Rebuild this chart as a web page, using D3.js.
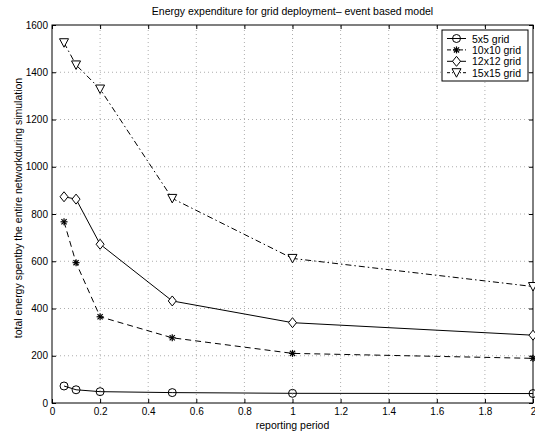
<!DOCTYPE html>
<html><head><meta charset="utf-8">
<script src="https://cdn.jsdelivr.net/npm/d3@7"></script>
<style>body{margin:0;background:#fff}svg{display:block}text{font-family:"Liberation Sans",Arial,sans-serif;fill:#000}</style>
</head><body>
<script>
const reportingPeriod = [0.05, 0.1, 0.2, 0.5, 1, 2];
const grid5 = [72, 56, 48, 44, 41, 40];
const grid10 = [767, 594, 365, 276, 210, 189];
const grid12 = [873, 863, 672, 432, 340, 287];
const grid15 = [1525, 1431, 1329, 866, 612, 493];
const seriesNames = ["5x5 grid", "10x10 grid", "12x12 grid", "15x15 grid"];
const xTicks = [0, 0.2, 0.4, 0.6, 0.8, 1, 1.2, 1.4, 1.6, 1.8, 2];
const yTicks = [0, 200, 400, 600, 800, 1000, 1200, 1400, 1600];

const W = 535, H = 437;
const m = {l: 52, r: 2, t: 25, b: 34};
const svg = d3.select("body").append("svg").attr("width", W).attr("height", H);
const x = d3.scaleLinear().domain([0, 2]).range([m.l, W - m.r]);
const y = d3.scaleLinear().domain([0, 1600]).range([H - m.b, m.t]);

// grid
const g = svg.append("g");
g.selectAll(".vx").data(xTicks.slice(1, -1)).enter().append("line")
  .attr("x1", d => x(d)).attr("x2", d => x(d)).attr("y1", y(0)).attr("y2", y(1600))
  .attr("stroke", "#999").attr("stroke-width", 0.8).attr("stroke-dasharray", "1,3");
g.selectAll(".hy").data(yTicks.slice(1, -1)).enter().append("line")
  .attr("y1", d => y(d)).attr("y2", d => y(d)).attr("x1", x(0)).attr("x2", x(2))
  .attr("stroke", "#999").attr("stroke-width", 0.8).attr("stroke-dasharray", "1,3");

// axes
const xAx = svg.append("g").attr("transform", `translate(0,${y(0)})`)
  .call(d3.axisBottom(x).tickValues(xTicks).tickFormat(d3.format("~g")).tickSizeInner(-4).tickSizeOuter(0).tickPadding(5));
const xAxT = svg.append("g").attr("transform", `translate(0,${y(1600)})`)
  .call(d3.axisTop(x).tickValues(xTicks).tickFormat("").tickSizeInner(-4).tickSizeOuter(0));
const yAx = svg.append("g").attr("transform", `translate(${x(0)},0)`)
  .call(d3.axisLeft(y).tickValues(yTicks).tickFormat(d3.format("d")).tickSizeInner(-4).tickSizeOuter(0).tickPadding(4));
const yAxR = svg.append("g").attr("transform", `translate(${x(2)},0)`)
  .call(d3.axisRight(y).tickValues(yTicks).tickFormat("").tickSizeInner(-4).tickSizeOuter(0));
[xAx, xAxT, yAx, yAxR].forEach(a => {
  a.selectAll(".domain").remove();
  a.selectAll("line").attr("stroke", "#000");
  a.selectAll("text").attr("font-size", 10).attr("font-family", '"Liberation Sans",Arial,sans-serif');
});
svg.append("rect").attr("x", x(0)).attr("y", y(1600)).attr("width", x(2) - x(0)).attr("height", y(0) - y(1600))
  .attr("fill", "none").attr("stroke", "#000").attr("stroke-width", 1);

// series
const series = [
  {name: seriesNames[0], vals: grid5, dash: null, marker: "circle"},
  {name: seriesNames[1], vals: grid10, dash: "6,4", marker: "star"},
  {name: seriesNames[2], vals: grid12, dash: null, marker: "diamond"},
  {name: seriesNames[3], vals: grid15, dash: "6,3,1.5,3", marker: "tri"}
];
const line = d3.line().x(d => x(d[0])).y(d => y(d[1]));
function drawMarker(sel, type, cx, cy) {
  if (type === "circle") sel.append("circle").attr("cx", cx).attr("cy", cy).attr("r", 4)
    .attr("fill", "none").attr("stroke", "#000").attr("stroke-width", 1);
  else if (type === "diamond") sel.append("path")
    .attr("d", `M${cx},${cy-5}L${cx+4},${cy}L${cx},${cy+5}L${cx-4},${cy}Z`)
    .attr("fill", "#fff").attr("stroke", "#000").attr("stroke-width", 1);
  else if (type === "tri") sel.append("path")
    .attr("d", `M${cx-4.5},${cy-4}L${cx+4.5},${cy-4}L${cx},${cy+4.5}Z`)
    .attr("fill", "#fff").attr("stroke", "#000").attr("stroke-width", 1);
  else if (type === "star") {
    const p = sel.append("g").attr("stroke", "#000").attr("stroke-width", 1.2);
    [[0, 3.5], [3.5, 0], [2.6, 2.6], [2.6, -2.6]].forEach(([dx, dy]) =>
      p.append("line").attr("x1", cx - dx).attr("y1", cy - dy).attr("x2", cx + dx).attr("y2", cy + dy));
  }
}
series.forEach(s => {
  const pts = reportingPeriod.map((p, i) => [p, s.vals[i]]);
  svg.append("path").attr("d", line(pts)).attr("fill", "none").attr("stroke", "#000")
    .attr("stroke-width", 1).attr("stroke-dasharray", s.dash);
  const mg = svg.append("g");
  pts.forEach(pt => drawMarker(mg, s.marker, x(pt[0]), y(pt[1])));
});

// legend
const lg = svg.append("g");
lg.append("rect").attr("x", 442).attr("y", 30).attr("width", 86).attr("height", 51)
  .attr("fill", "#fff").attr("stroke", "#000").attr("stroke-width", 1);
series.forEach((s, i) => {
  const ly = 38.5 + i * 11.4;
  lg.append("line").attr("x1", 447).attr("x2", 466).attr("y1", ly).attr("y2", ly)
    .attr("stroke", "#000").attr("stroke-width", 1).attr("stroke-dasharray", s.dash ? (s.marker === "star" ? "4,2" : "3,2,1,2") : null);
  drawMarker(lg, s.marker, 456.5, ly);
  lg.append("text").attr("x", 472).attr("y", ly + 4).attr("font-size", 10.5).text(s.name);
});

// titles
svg.append("text").attr("x", (x(0) + x(2)) / 2).attr("y", 15).attr("text-anchor", "middle")
  .attr("font-size", 10.5).text("Energy expenditure for grid deployment\u2013 event based model");
svg.append("text").attr("x", (x(0) + x(2)) / 2).attr("y", 429).attr("text-anchor", "middle")
  .attr("font-size", 10.5).text("reporting period");
svg.append("text").attr("transform", `translate(22,208) rotate(-90)`)
  .attr("text-anchor", "middle").attr("font-size", 10.5)
  .text("total energy spentby the entire networkduring simulation");
</script>
</body></html>
